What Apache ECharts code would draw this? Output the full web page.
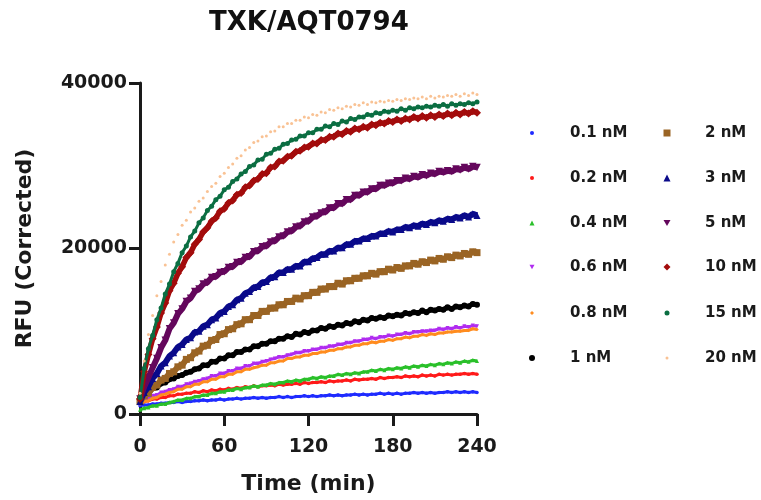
<!DOCTYPE html>
<html>
<head>
<meta charset="utf-8">
<script src="https://cdn.jsdelivr.net/npm/echarts@6/dist/echarts.min.js"></script>
<style>html,body{margin:0;background:#fff}#chart{width:761px;height:500px}</style>
</head>
<body>
<div id="chart"></div>
<script>
// time points (min)
const times = [0,3,6,9,12,15,18,21,24,27,30,33,36,39,42,45,48,51,54,57,60,63,66,69,72,75,78,81,84,87,90,93,96,99,102,105,108,111,114,117,120,123,126,129,132,135,138,141,144,147,150,153,156,159,162,165,168,171,174,177,180,183,186,189,192,195,198,201,204,207,210,213,216,219,222,225,228,231,234,237,240];

// RFU (corrected) per concentration
const nM01 = [1000,1100,1100,1200,1200,1300,1300,1400,1400,1500,1400,1500,1500,1600,1600,1700,1600,1700,1700,1800,1700,1800,1800,1900,1800,1900,1900,2000,1900,2000,1900,2000,2000,2100,2000,2100,2000,2100,2100,2200,2100,2200,2100,2200,2200,2300,2200,2300,2200,2300,2300,2400,2300,2400,2300,2400,2400,2500,2400,2500,2400,2500,2400,2500,2500,2600,2500,2600,2500,2600,2500,2600,2600,2700,2600,2700,2600,2700,2600,2700,2600];
const nM02 = [1300,1500,1600,1800,1800,2000,2000,2200,2200,2400,2400,2500,2500,2700,2600,2800,2700,2900,2800,3000,2900,3100,3000,3200,3100,3300,3200,3400,3300,3400,3400,3500,3400,3600,3500,3600,3600,3700,3600,3800,3700,3800,3800,3900,3800,4000,3900,4000,4000,4100,4000,4200,4100,4200,4200,4300,4200,4400,4300,4400,4400,4500,4400,4600,4500,4600,4500,4700,4600,4700,4600,4800,4700,4800,4700,4800,4800,4900,4800,4900,4800];
const nM04 = [500,700,800,1000,1000,1200,1200,1400,1500,1700,1700,1900,1900,2100,2100,2300,2300,2500,2500,2700,2700,2900,2900,3100,3000,3200,3200,3400,3300,3500,3500,3700,3600,3800,3800,4000,3900,4100,4000,4200,4200,4400,4300,4500,4400,4600,4600,4800,4700,4900,4800,5000,4900,5100,5100,5300,5200,5400,5300,5500,5400,5600,5500,5700,5600,5800,5700,5900,5800,6000,5900,6100,6000,6200,6100,6300,6200,6400,6300,6500,6400];
const nM06 = [1500,1800,1900,2200,2300,2600,2700,2900,3000,3300,3300,3600,3700,3900,4000,4200,4300,4600,4600,4900,4900,5200,5200,5500,5500,5800,5800,6100,6100,6300,6400,6600,6700,6900,6900,7100,7200,7400,7400,7600,7600,7800,7800,8000,8000,8200,8200,8400,8400,8600,8600,8800,8800,9000,9000,9200,9100,9300,9300,9500,9400,9600,9600,9800,9700,9900,9900,10000,10000,10100,10100,10300,10200,10400,10300,10500,10400,10600,10500,10700,10600];
const nM08 = [1200,1500,1600,1900,2000,2300,2400,2600,2700,3000,3000,3300,3300,3600,3600,3900,3900,4200,4200,4500,4500,4800,4800,5100,5100,5400,5400,5600,5700,5900,5900,6200,6200,6400,6400,6700,6700,6900,6900,7100,7100,7300,7300,7500,7500,7700,7700,7900,7900,8100,8100,8300,8300,8500,8500,8700,8600,8800,8800,9000,8900,9100,9100,9300,9200,9400,9400,9600,9500,9700,9600,9800,9800,9900,9900,10000,10000,10100,10100,10300,10200];
const nM1 = [1800,2300,2500,3100,3200,3700,3800,4200,4300,4600,4700,5000,5100,5400,5500,5900,5900,6300,6300,6700,6700,7100,7100,7500,7500,7800,7800,8200,8200,8500,8500,8800,8800,9100,9100,9400,9300,9700,9600,9900,9800,10100,10100,10400,10300,10600,10500,10800,10700,11000,10900,11200,11100,11400,11300,11600,11500,11700,11600,11900,11800,12000,11900,12200,12100,12300,12200,12500,12300,12600,12500,12700,12600,12900,12700,13000,12900,13100,13000,13300,13200];
const nM2 = [1500,2200,2500,3200,3500,4100,4300,4900,5100,5700,5900,6600,6800,7400,7600,8200,8300,8900,9000,9600,9700,10200,10300,10800,10900,11400,11400,11900,11900,12400,12400,12800,12800,13200,13200,13600,13600,14000,13900,14300,14300,14700,14700,15100,15100,15400,15400,15800,15700,16100,16100,16400,16400,16700,16700,17000,16900,17200,17200,17500,17400,17700,17600,17900,17900,18200,18100,18400,18300,18600,18500,18800,18700,19000,18900,19200,19100,19400,19300,19600,19500];
const nM3 = [1500,2600,3300,4300,4900,5800,6200,7000,7400,8100,8400,9000,9200,9900,10000,10600,10800,11400,11600,12200,12400,13000,13200,13800,14000,14600,14800,15300,15400,15900,16000,16500,16600,17100,17100,17500,17500,17900,17900,18400,18400,18800,18900,19300,19300,19700,19700,20100,20100,20500,20500,20900,20900,21200,21200,21500,21500,21800,21800,22100,22000,22300,22300,22600,22500,22800,22700,23000,22900,23200,23100,23400,23300,23600,23500,23800,23700,24000,23800,24200,24000];
const nM5 = [1800,3300,4400,5600,6700,8000,8900,10300,11000,12100,12700,13600,14000,14800,15100,15700,15900,16500,16600,17100,17200,17700,17800,18300,18400,18900,19000,19600,19700,20200,20300,20800,20900,21400,21500,22000,22100,22600,22700,23200,23300,23800,23900,24300,24400,24900,24900,25400,25400,25900,25900,26400,26400,26800,26800,27200,27200,27600,27600,27900,27900,28200,28200,28500,28400,28700,28600,28900,28800,29100,29000,29300,29200,29400,29300,29600,29500,29800,29600,29900,29800];
const nM10 = [1800,5100,7200,9100,10500,12200,13400,14900,15800,17000,17800,18900,19500,20500,21100,22000,22500,23300,23700,24500,24800,25500,25800,26500,26700,27400,27600,28200,28400,29000,29100,29800,29900,30500,30600,31100,31200,31700,31800,32200,32300,32700,32700,33100,33100,33500,33500,33900,33800,34200,34100,34500,34400,34700,34600,35000,34900,35200,35100,35400,35300,35600,35400,35700,35600,35900,35700,36000,35800,36100,35900,36200,36000,36300,36100,36400,36200,36500,36300,36600,36400];
const nM15 = [2000,5500,7900,9500,11400,12800,14500,15700,17200,18200,19500,20300,21400,22100,23100,23700,24600,25100,25900,26300,27100,27400,28100,28400,29000,29300,29900,30100,30700,30800,31400,31500,32000,32100,32600,32700,33100,33200,33600,33600,34000,34000,34400,34400,34800,34700,35100,35000,35400,35300,35700,35600,35900,35900,36200,36100,36400,36300,36600,36500,36700,36600,36900,36700,37000,36900,37100,37000,37200,37100,37300,37200,37400,37200,37500,37300,37500,37400,37600,37500,37700];
const nM20 = [2500,6400,9600,11900,14300,16000,18000,19300,20800,21700,22800,23400,24400,24900,25700,26100,26900,27500,27900,28700,29100,29800,30200,30900,31200,31900,32200,32800,33000,33500,33600,34100,34200,34700,34700,35100,35100,35500,35500,35900,35800,36200,36100,36500,36400,36800,36700,37000,36900,37200,37100,37400,37300,37600,37400,37700,37600,37800,37700,37900,37800,38000,37900,38100,38000,38200,38100,38300,38100,38400,38200,38400,38300,38500,38400,38600,38400,38700,38500,38800,38600];

const names = ['0.1 nM','0.2 nM','0.4 nM','0.6 nM','0.8 nM','1 nM','2 nM','3 nM','5 nM','10 nM','15 nM','20 nM'];
const values = [nM01,nM02,nM04,nM06,nM08,nM1,nM2,nM3,nM5,nM10,nM15,nM20];
const colors = ['#1f2bff','#ff1a1a','#2ac02a','#b02cf0','#ff8c1f','#000000','#9a6424','#0a0a8a','#64075c','#a30c0c','#0b6e42','#f9c294'];
const symbols = ['circle','circle','triangle','triangle','diamond','circle','rect','triangle','triangle','diamond','circle','circle'];
const rotates = [0,0,0,180,0,0,0,0,180,0,0,0];
const plotSizes = [3.5,3.5,4,4,3.5,6,7,7,7.5,8,5,3];
const lineWidths = [3,3,3,3,3,5,6,6,6,5.5,3,0];
const legendSizes = [4,4,5,5,4,6,7,7,7,7,5,3];
const rowCenters = [133,178,223,267,313,358];

const FONT = 'DejaVu Sans';
const downTri = 'path://M0,0L10,0L5,8.7Z';

const chart = echarts.init(document.getElementById('chart'));

const series = names.map(function(n, k){
  return {
    name: n,
    type: 'line',
    data: times.map(function(t, i){ return [t, values[k][i]]; }),
    symbol: symbols[k],
    symbolRotate: rotates[k],
    symbolSize: plotSizes[k],
    showSymbol: true,
    itemStyle: {color: colors[k]},
    lineStyle: {color: colors[k], width: lineWidths[k], opacity: lineWidths[k] ? 1 : 0},
    z: 2 + k
  };
});

const legends = names.map(function(n, k){
  const s = legendSizes[k];
  const col = k < 6 ? 0 : 1;
  const cx = col ? 667 : 532;
  const cy = rowCenters[k % 6];
  return {
    data: [{name: n, icon: rotates[k] ? downTri : symbols[k]}],
    left: cx - s / 2,
    top: cy - 9,
    padding: 0,
    itemWidth: s,
    itemHeight: s,
    selectedMode: false,
    textStyle: {
      fontFamily: FONT, fontWeight: 'bold', fontSize: 15, color: '#1a1a1a',
      lineHeight: 18, padding: [0, 0, 0, 33 - s / 2]
    }
  };
});

chart.setOption({
  animation: false,
  title: {
    text: 'TXK/AQT0794',
    left: 204,
    top: 5,
    textStyle: {fontFamily: FONT, fontWeight: 'bold', fontSize: 26, color: '#111'}
  },
  legend: legends,
  grid: {left: 140, top: 83, width: 337, height: 333},
  xAxis: {
    type: 'value',
    min: 0, max: 240, interval: 60,
    name: 'Time (min)',
    nameLocation: 'middle',
    nameGap: 59,
    nameTextStyle: {fontFamily: FONT, fontWeight: 'bold', fontSize: 22, color: '#1a1a1a'},
    axisLine: {lineStyle: {color: '#1a1a1a', width: 3}},
    axisTick: {length: 12, lineStyle: {width: 3, color: '#1a1a1a'}},
    axisLabel: {margin: 24, fontFamily: FONT, fontWeight: 'bold', fontSize: 19, color: '#1a1a1a'},
    splitLine: {show: false}
  },
  yAxis: {
    type: 'value',
    min: 0, max: 40000, interval: 20000,
    name: 'RFU (Corrected)',
    nameLocation: 'middle',
    nameGap: 104,
    nameTextStyle: {fontFamily: FONT, fontWeight: 'bold', fontSize: 22, color: '#1a1a1a'},
    axisLine: {show: true, lineStyle: {color: '#1a1a1a', width: 3}},
    axisTick: {show: true, length: 11, lineStyle: {width: 3, color: '#1a1a1a'}},
    axisLabel: {
      margin: 13, fontFamily: FONT, fontWeight: 'bold', fontSize: 19, color: '#1a1a1a',
      formatter: function(v){ return String(v); }
    },
    splitLine: {show: false}
  },
  series: series
});
</script>
</body>
</html>
